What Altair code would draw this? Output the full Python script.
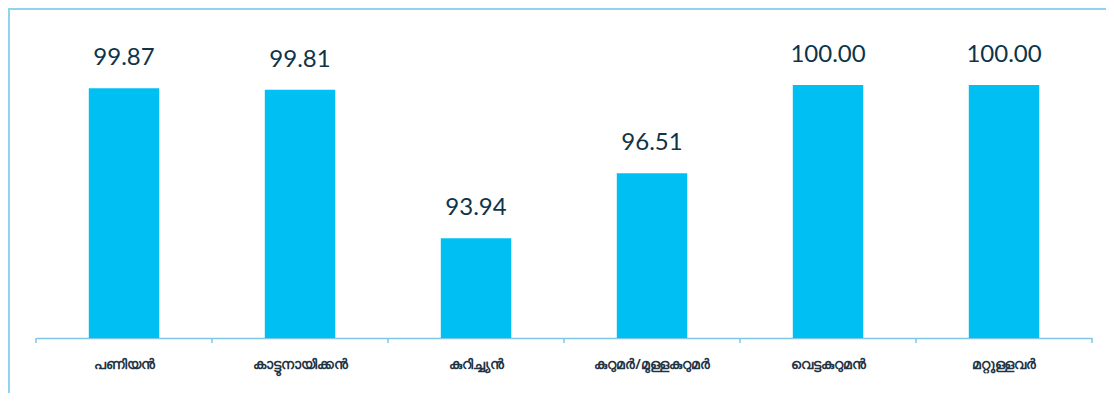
import altair as alt
import pandas as pd

categories = ["പണിയൻ", "കാട്ടുനായിക്കൻ", "കുറിച്ച്യൻ", "കുറുമർ/മുള്ളകുറുമർ", "വെട്ടകുറുമൻ", "മറ്റുള്ളവർ"]
values = [99.87, 99.81, 93.94, 96.51, 100.00, 100.00]
baseline = 90

df = pd.DataFrame({"cat": categories, "val": values, "lab": [f"{v:.2f}" for v in values]})
df_last = df.iloc[[-1]]

axis_color = "#7fc6e6"

x = alt.X("cat:N", sort=categories, title=None,
          scale=alt.Scale(paddingInner=0.6, paddingOuter=0.3),
          axis=alt.Axis(labelAngle=0, ticks=False, domainColor=axis_color,
                        domainWidth=1.5, labelPadding=19,
                        labelFont="Noto Sans", labelFontSize=14, labelFontWeight=600,
                        labelColor="#1f3545"))
y = alt.Y("val:Q", scale=alt.Scale(domain=[baseline, 100], zero=False, nice=False), axis=None)

bars = alt.Chart(df).mark_bar(color="#00BFF2").encode(x=x, y=y, y2=alt.datum(baseline))
text = alt.Chart(df).mark_text(dy=-18, baseline="bottom", font="Lato", fontSize=24,
                               color="#0f3447").encode(x=x, y=y, text="lab:N")
frame = alt.Chart(df).mark_rect(fillOpacity=0, stroke="#8fd3f0", strokeWidth=2).encode(
    x=alt.value(-27), x2=alt.value(1200), y=alt.value(-76), y2=alt.value(600))

main = alt.layer(frame, bars, text)

tick_scale = alt.Scale(paddingInner=0, paddingOuter=0)
ticks_start = alt.Chart(df).mark_rule(color=axis_color, strokeWidth=1.5).encode(
    x=alt.X("cat:N", sort=categories, bandPosition=0, scale=tick_scale, axis=None),
    y=alt.value(253), y2=alt.value(258))
ticks_end = alt.Chart(df_last).mark_rule(color=axis_color, strokeWidth=1.5).encode(
    x=alt.X("cat:N", bandPosition=1, scale=alt.Scale(paddingInner=0, paddingOuter=0, domain=categories), axis=None),
    y=alt.value(253), y2=alt.value(258))

chart = alt.layer(main, ticks_start, ticks_end).resolve_scale(x="independent").properties(
    width=1056, height=253,
    autosize=alt.AutoSizeParams(type="none"),
    padding={"left": 28, "top": 77, "right": 14, "bottom": 55},
).configure_view(stroke=None)

chart.save("out.html", embed_options={"renderer": "svg", "actions": False})
